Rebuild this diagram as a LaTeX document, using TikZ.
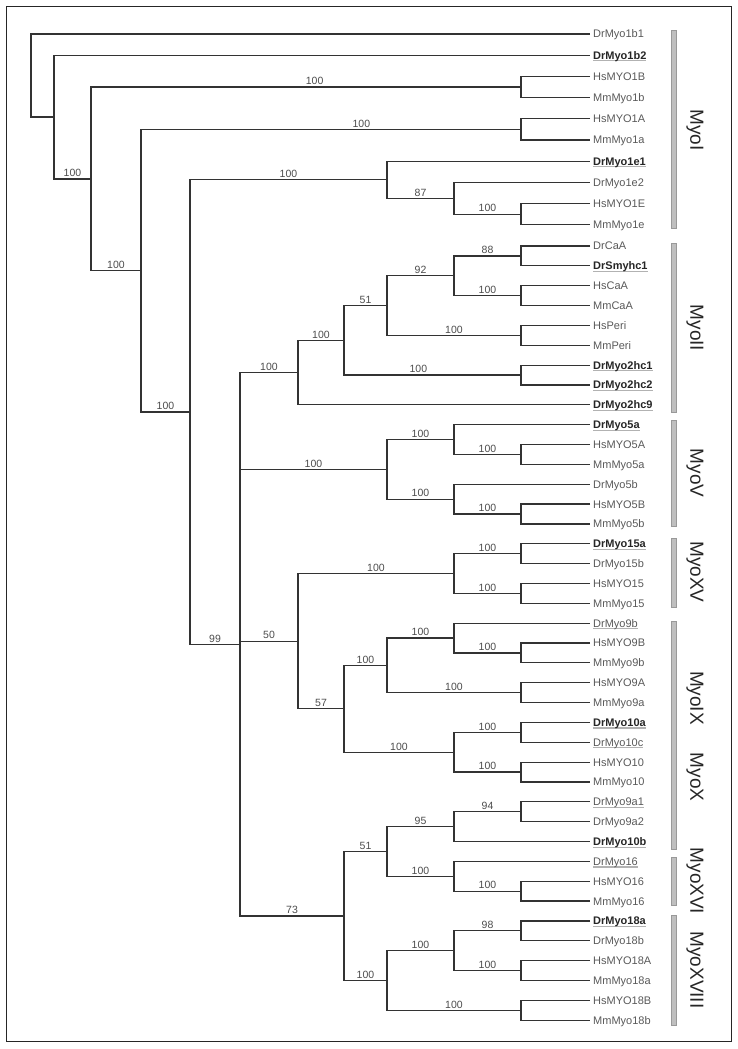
\documentclass[tikz,border=0pt]{standalone}
\usepackage{fontspec}
\setmainfont{Liberation Sans}
\usetikzlibrary{calc}

% grey underline under a leaf name
\newsavebox\ulbox
\newcommand{\ulgray}[1]{\sbox\ulbox{#1}\rlap{\color{gray!60}\rule[-2.2pt]{\wd\ulbox}{1.1pt}}\usebox\ulbox}
\newcommand{\lfn}[1]{#1}
\newcommand{\lfu}[1]{\ulgray{#1}}
\newcommand{\lfb}[1]{{\color{black!85}\ulgray{\bfseries #1}}}

\tikzset{
  branch/.style={line width=1.2pt, black!80},
  leaf/.style={anchor=west, inner xsep=3pt, inner ysep=0pt, text height=7.9pt,
    text depth=0pt, font=\fontsize{11}{13}\selectfont, text=black!65},
  boot/.style={above, inner sep=1.5pt, font=\fontsize{10.5}{12}\selectfont, text=black!70},
  groupbar/.style={fill=gray!50, draw=gray!80, line width=0.6pt},
  grouplabel/.style={rotate=-90, font=\fontsize{19}{22}\selectfont, text=black!85},
}

\begin{document}
\begin{tikzpicture}[x=1pt, y=-1pt]
  \useasboundingbox (0,0) rectangle (738,1049);
  \draw[line width=1.3pt, black!85] (6.7,6.7) rectangle (731.7,1041.7);

  % leaves
  \foreach \y/\name/\fmt in {
      34/DrMyo1b1/\lfn, 55.2/DrMyo1b2/\lfb, 76.4/HsMYO1B/\lfn, 97.6/MmMyo1b/\lfn,
      118.8/HsMYO1A/\lfn, 140/MmMyo1a/\lfn, 161.2/DrMyo1e1/\lfb, 182.4/DrMyo1e2/\lfn,
      203.6/HsMYO1E/\lfn, 224.8/MmMyo1e/\lfn, 246/DrCaA/\lfn, 265.85/DrSmyhc1/\lfb,
      285.7/HsCaA/\lfn, 305.55/MmCaA/\lfn, 325.4/HsPeri/\lfn, 345.25/MmPeri/\lfn,
      365.1/DrMyo2hc1/\lfb, 384.95/DrMyo2hc2/\lfb, 404.8/DrMyo2hc9/\lfb,
      424.65/DrMyo5a/\lfb, 444.5/HsMYO5A/\lfn, 464.35/MmMyo5a/\lfn, 484.2/DrMyo5b/\lfn,
      504.05/HsMYO5B/\lfn, 523.9/MmMyo5b/\lfn, 543.75/DrMyo15a/\lfb, 563.6/DrMyo15b/\lfn,
      583.45/HsMYO15/\lfn, 603.3/MmMyo15/\lfn, 623.15/DrMyo9b/\lfu, 643/HsMYO9B/\lfn,
      662.85/MmMyo9b/\lfn, 682.7/HsMYO9A/\lfn, 702.55/MmMyo9a/\lfn, 722.4/DrMyo10a/\lfb,
      742.25/DrMyo10c/\lfu, 762.1/HsMYO10/\lfn, 781.95/MmMyo10/\lfn, 801.8/DrMyo9a1/\lfu,
      821.65/DrMyo9a2/\lfn, 841.5/DrMyo10b/\lfb, 861.35/DrMyo16/\lfu, 881.2/HsMYO16/\lfn,
      901.05/MmMyo16/\lfn, 920.9/DrMyo18a/\lfb, 940.75/DrMyo18b/\lfn, 960.6/HsMYO18A/\lfn,
      980.45/MmMyo18a/\lfn, 1000.3/HsMYO18B/\lfn, 1020.15/MmMyo18b/\lfn}
    \node[leaf] (\name) at (590,\y) {\fmt{\name}};

  % internal nodes
  \coordinate (root) at (31,75.5);
  \coordinate (nA) at (54,117);
  \coordinate (nB) at (91,178.9);
  \coordinate (nC) at (141,270.7);
  \coordinate (nD) at (190,412);
  \coordinate (nE) at (240,644.3);
  \coordinate (c1B) at (521,87);
  \coordinate (c1A) at (521,129.4);
  \coordinate (myo1e) at (387,179.8);
  \coordinate (n87) at (454,198.3);
  \coordinate (c1E) at (521,214.2);
  \coordinate (myo2) at (298,372.6);
  \coordinate (nII4) at (344,340.3);
  \coordinate (nII3) at (387,305.6);
  \coordinate (n92) at (454,275.8);
  \coordinate (cCaAdr) at (521,255.9);
  \coordinate (cCaA) at (521,295.6);
  \coordinate (cPeri) at (521,335.3);
  \coordinate (cMyo2) at (521,375);
  \coordinate (myo5) at (387,469.3);
  \coordinate (n5a) at (454,439.5);
  \coordinate (c5A) at (521,454.4);
  \coordinate (n5b) at (454,499.1);
  \coordinate (c5B) at (521,514);
  \coordinate (n50) at (298,641.1);
  \coordinate (myo15) at (454,573.5);
  \coordinate (c15a) at (521,553.7);
  \coordinate (c15) at (521,593.4);
  \coordinate (n57) at (344,708.8);
  \coordinate (myo9) at (387,665.3);
  \coordinate (n9b) at (454,638);
  \coordinate (c9B) at (521,652.9);
  \coordinate (c9A) at (521,692.6);
  \coordinate (myo10) at (454,752.2);
  \coordinate (c10a) at (521,732.3);
  \coordinate (c10) at (521,772);
  \coordinate (n73) at (344,916);
  \coordinate (n51b) at (387,851.4);
  \coordinate (n95) at (454,826.6);
  \coordinate (c9a) at (521,811.7);
  \coordinate (myo16) at (454,876.2);
  \coordinate (c16) at (521,891.1);
  \coordinate (myo18) at (387,980.5);
  \coordinate (n18) at (454,950.7);
  \coordinate (c18a) at (521,930.8);
  \coordinate (c18A) at (521,970.5);
  \coordinate (c18B) at (521,1010.2);

  % cherries
  \foreach \c/\a/\b in {c1B/HsMYO1B/MmMyo1b, c1A/HsMYO1A/MmMyo1a, c1E/HsMYO1E/MmMyo1e,
      cCaAdr/DrCaA/DrSmyhc1, cCaA/HsCaA/MmCaA, cPeri/HsPeri/MmPeri,
      cMyo2/DrMyo2hc1/DrMyo2hc2, c5A/HsMYO5A/MmMyo5a, c5B/HsMYO5B/MmMyo5b,
      c15a/DrMyo15a/DrMyo15b, c15/HsMYO15/MmMyo15, c9B/HsMYO9B/MmMyo9b,
      c9A/HsMYO9A/MmMyo9a, c10a/DrMyo10a/DrMyo10c, c10/HsMYO10/MmMyo10,
      c9a/DrMyo9a1/DrMyo9a2, c16/HsMYO16/MmMyo16, c18a/DrMyo18a/DrMyo18b,
      c18A/HsMYO18A/MmMyo18a, c18B/HsMYO18B/MmMyo18b}
    \draw[branch] (\a.west) -| (\c) |- (\b.west);

  % single leaves
  \foreach \p/\a in {root/DrMyo1b1, nA/DrMyo1b2, myo1e/DrMyo1e1, n87/DrMyo1e2,
      myo2/DrMyo2hc9, n5a/DrMyo5a, n5b/DrMyo5b, n9b/DrMyo9b, n95/DrMyo10b, myo16/DrMyo16}
    \draw[branch] (\p) |- (\a.west);

  % backbone
  \draw[branch] (root) |- (nA);
  \draw[branch] (nA) |- node[boot, pos=.75] {100} (nB);
  \draw[branch] (nB) |- node[boot, pos=.76] {100} (c1B);
  \draw[branch] (nB) |- node[boot, pos=.75] {100} (nC);
  \draw[branch] (nC) |- node[boot, pos=.79] {100} (c1A);
  \draw[branch] (nC) |- node[boot, pos=.75] {100} (nD);
  \draw[branch] (nD) |- node[boot, pos=.75] {100} (myo1e);
  \draw[branch] (nD) |- node[boot, pos=.75] {99} (nE);
  \draw[branch] (myo1e) |- node[boot, pos=.75] {87} (n87);
  \draw[branch] (n87) |- node[boot, pos=.75] {100} (c1E);

  % MyoII and MyoV
  \draw[branch] (nE) |- node[boot, pos=.75] {100} (myo2);
  \draw[branch] (myo2) |- node[boot, pos=.75] {100} (nII4);
  \draw[branch] (nII4) |- node[boot, pos=.75] {51} (nII3);
  \draw[branch] (nII4) |- node[boot, pos=.71] {100} (cMyo2);
  \draw[branch] (nII3) |- node[boot, pos=.75] {92} (n92);
  \draw[branch] (nII3) |- node[boot, pos=.75] {100} (cPeri);
  \draw[branch] (n92) |- node[boot, pos=.75] {88} (cCaAdr);
  \draw[branch] (n92) |- node[boot, pos=.75] {100} (cCaA);
  \draw[branch] (nE) |- node[boot, pos=.75] {100} (myo5);
  \draw[branch] (myo5) |- node[boot, pos=.75] {100} (n5a);
  \draw[branch] (myo5) |- node[boot, pos=.75] {100} (n5b);
  \draw[branch] (n5a) |- node[boot, pos=.75] {100} (c5A);
  \draw[branch] (n5b) |- node[boot, pos=.75] {100} (c5B);

  % MyoXV, MyoIX, MyoX
  \draw[branch] (nE) |- node[boot, pos=.75] {50} (n50);
  \draw[branch] (n50) |- node[boot, pos=.75] {100} (myo15);
  \draw[branch] (myo15) |- node[boot, pos=.75] {100} (c15a);
  \draw[branch] (myo15) |- node[boot, pos=.75] {100} (c15);
  \draw[branch] (n50) |- node[boot, pos=.75] {57} (n57);
  \draw[branch] (n57) |- node[boot, pos=.75] {100} (myo9);
  \draw[branch] (n57) |- node[boot, pos=.75] {100} (myo10);
  \draw[branch] (myo9) |- node[boot, pos=.75] {100} (n9b);
  \draw[branch] (myo9) |- node[boot, pos=.75] {100} (c9A);
  \draw[branch] (n9b) |- node[boot, pos=.75] {100} (c9B);
  \draw[branch] (myo10) |- node[boot, pos=.75] {100} (c10a);
  \draw[branch] (myo10) |- node[boot, pos=.75] {100} (c10);

  % MyoXVI, MyoXVIII
  \draw[branch] (nE) |- node[boot, pos=.75] {73} (n73);
  \draw[branch] (n73) |- node[boot, pos=.75] {51} (n51b);
  \draw[branch] (n73) |- node[boot, pos=.75] {100} (myo18);
  \draw[branch] (n51b) |- node[boot, pos=.75] {95} (n95);
  \draw[branch] (n51b) |- node[boot, pos=.75] {100} (myo16);
  \draw[branch] (n95) |- node[boot, pos=.75] {94} (c9a);
  \draw[branch] (myo16) |- node[boot, pos=.75] {100} (c16);
  \draw[branch] (myo18) |- node[boot, pos=.75] {100} (n18);
  \draw[branch] (myo18) |- node[boot, pos=.75] {100} (c18B);
  \draw[branch] (n18) |- node[boot, pos=.75] {98} (c18a);
  \draw[branch] (n18) |- node[boot, pos=.75] {100} (c18A);

  % class bars
  \foreach \t/\b in {30/228, 243/412, 420/526, 538/607, 621/849, 857/905, 915/1025}
    \draw[groupbar] (671,\t) rectangle (676,\b);
  \foreach \y/\txt in {130/MyoI, 328/MyoII, 473/MyoV, 572/MyoXV, 698/MyoIX,
      777/MyoX, 881/MyoXVI, 970/MyoXVIII}
    \node[grouplabel] (grp\txt) at (695,\y) {\txt};
\end{tikzpicture}
\end{document}
